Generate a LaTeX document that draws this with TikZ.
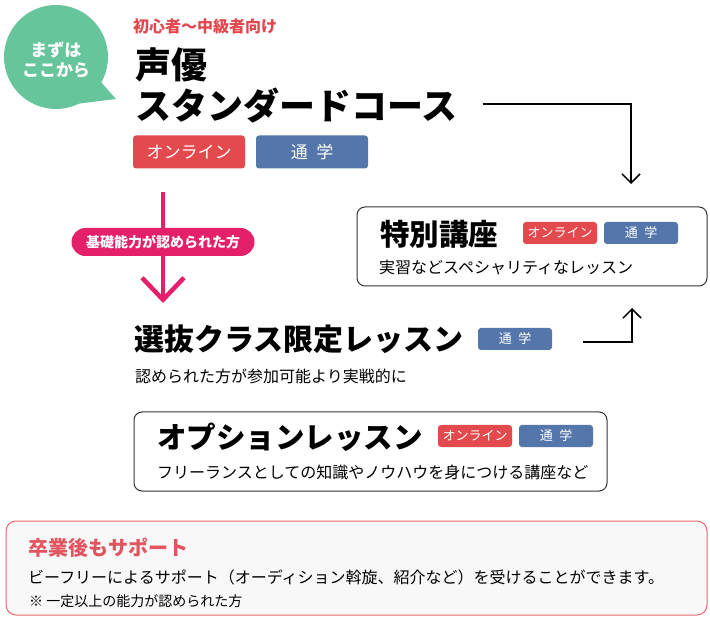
\documentclass[tikz,border=0pt]{standalone}
\usepackage{fontspec}
\setmainfont{Noto Sans CJK JP}
\usetikzlibrary{arrows.meta}
\definecolor{bubblegreen}{HTML}{66C59B}
\definecolor{headred}{HTML}{E2474D}
\definecolor{tagred}{HTML}{E34A4E}
\definecolor{tagblue}{HTML}{5476AA}
\definecolor{arrowpink}{HTML}{E5206B}
\definecolor{boxgray}{HTML}{333333}
\definecolor{supportred}{HTML}{E86A6A}
\definecolor{supporttitle}{HTML}{E25560}
\definecolor{supportbg}{HTML}{F8F8F8}

\begin{document}
\begin{tikzpicture}[x=1pt,y=-1pt,
    flowline/.style={line width=1.5pt,-{Straight Barb[length=9pt,width=18pt]}},
    tagbase/.style={rounded corners=3pt,text=white,inner sep=0pt},
    tagbig/.style={tagbase,minimum width=112pt,minimum height=33pt,font=\fontsize{17}{19}\selectfont},
    tagsmall/.style={tagbase,minimum width=74pt,minimum height=22pt,font=\fontsize{13}{15}\selectfont},
    onlinetag/.style={fill=tagred},
    schooltag/.style={fill=tagblue},
    panel/.style={draw=boxgray,line width=1pt,rounded corners=8pt,inner sep=0pt},
    headtext/.style={anchor=west,inner sep=0pt,font=\bfseries\fontsize{29.5}{34}\selectfont},
    bodytext/.style={anchor=west,inner sep=0pt,font=\fontsize{16}{18}\selectfont}]
  \useasboundingbox (0,0) rectangle (710,620);

  % speech bubble
  \fill [bubblegreen] (56,57) circle (52pt);
  \fill [bubblegreen] (92,72) -- (116,99) -- (76,104) -- cycle;
  \node (start) at (56,60) [text=white,align=center,inner sep=0pt,
    font=\bfseries\fontsize{17}{20}\selectfont] {まずは\\ここから};

  % standard course
  \node (level) at (133,26) [anchor=west,inner sep=0pt,text=headred,
    font=\bfseries\fontsize{16}{18}\selectfont] {初心者〜中級者向け};
  \node (seiyu) at (135,65) [anchor=west,inner sep=0pt,
    font=\bfseries\fontsize{36}{40}\selectfont] {声優};
  \node (std) at (135,106) [anchor=west,inner sep=0pt,
    font=\bfseries\fontsize{36}{40}\selectfont] {スタンダードコース};
  \node (stdon) at (189,152) [tagbig,onlinetag] {オンライン};
  \node (stdsch) at (312,152) [tagbig,schooltag] {通\enspace 学};

  % special lecture
  \node (special) at (532,246.5) [panel,minimum width=350pt,minimum height=79pt] {};
  \node (sptitle) at (380,234) [headtext] {特別講座};
  \node (spon) at (560,233) [tagsmall,onlinetag] {オンライン};
  \node (spsch) at (641,233) [tagsmall,schooltag] {通\enspace 学};
  \node (spbody) at (379,268) [bodytext] {実習などスペシャリティなレッスン};

  % selected class
  \node (sel) at (134,339) [headtext,font=\bfseries\fontsize{30}{34}\selectfont] {選抜クラス限定レッスン};
  \node (selsch) at (515,339) [tagsmall,schooltag] {通\enspace 学};
  \node (selbody) at (135,376) [bodytext] {認められた方が参加可能より実戦的に};

  % option lesson
  \node (option) at (370.5,451.5) [panel,minimum width=473pt,minimum height=79pt] {};
  \node (optitle) at (157,437) [headtext] {オプションレッスン};
  \node (opon) at (475,436) [tagsmall,onlinetag] {オンライン};
  \node (opsch) at (556,436) [tagsmall,schooltag] {通\enspace 学};
  \node (opbody) at (157,472) [bodytext] {フリーランスとしての知識やノウハウを身につける講座など};

  % after graduation
  \node (support) at (356.5,568) [panel,draw=supportred,fill=supportbg,
    rounded corners=10pt,minimum width=701pt,minimum height=94pt] {};
  \node (sutitle) at (28,548) [anchor=west,inner sep=0pt,text=supporttitle,
    font=\bfseries\fontsize{20}{24}\selectfont] {卒業後もサポート};
  \node (subody) at (28,577) [bodytext] {ビーフリーによるサポート（オーディション斡旋、紹介など）を受けることができます。};
  \node (sunote) at (29,601) [anchor=west,inner sep=0pt,
    font=\fontsize{14}{16}\selectfont] {※ 一定以上の能力が認められた方};

  % connectors
  \coordinate (a1) at (631,184);
  \coordinate (a2) at (632,308);
  \coordinate (p0) at (163,192);
  \coordinate (p1) at (163,303);
  \draw [flowline] ([xshift=25pt,yshift=2pt]std.east) -| (a1);
  \draw [flowline] ([xshift=31pt,yshift=-3pt]selsch.east) -| (a2);
  \draw [arrowpink,line width=4.5pt,-{Straight Barb[length=22pt,width=42pt]}]
    (p0) -- (p1);
  \node (cond) at (163,242) [fill=arrowpink,text=white,rounded corners=14pt,
    minimum width=183pt,minimum height=28pt,inner sep=0pt,
    font=\bfseries\fontsize{14}{16}\selectfont] {基礎能力が認められた方};
\end{tikzpicture}
\end{document}
